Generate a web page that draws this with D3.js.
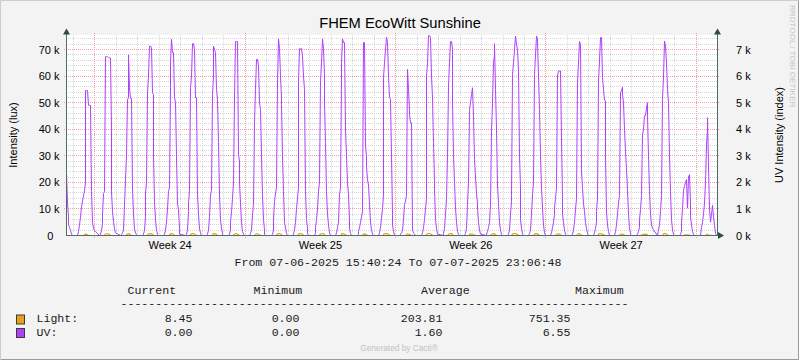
<!DOCTYPE html>
<html><head><meta charset="utf-8">
<script src="https://cdnjs.cloudflare.com/ajax/libs/d3/7.8.5/d3.min.js"></script>
<style>body{margin:0;background:#f3f3f3}svg{display:block}</style>
</head><body><svg id="c" width="799" height="360"></svg>
<script>
const chartTitle = "FHEM EcoWitt Sunshine";
const leftAxisTitle = "Intensity (lux)";
const rightAxisTitle = "UV Intensity (index)";
const startTime = Date.UTC(2025, 5, 7, 15, 40, 24);
const endTime = Date.UTC(2025, 6, 7, 23, 6, 48);
const periodText = "From 07-06-2025 15:40:24 To 07-07-2025 23:06:48";
const dayDates = ["2025-06-07","2025-06-08","2025-06-09","2025-06-10","2025-06-11","2025-06-12","2025-06-13","2025-06-14","2025-06-15","2025-06-16","2025-06-17","2025-06-18","2025-06-19","2025-06-20","2025-06-21","2025-06-22","2025-06-23","2025-06-24","2025-06-25","2025-06-26","2025-06-27","2025-06-28","2025-06-29","2025-06-30","2025-07-01","2025-07-02","2025-07-03","2025-07-04","2025-07-05","2025-07-06","2025-07-07"];
// UV series (left-axis units, thousands), hourly from 05:00 to 23:00 of each day
const uvFirstHour = 5;
const uvHourly = [
 [null,null,null,null,null,null,null,null,null,null,30,24,12,7,4,3,2,0.5,0],
 [0,1.5,4,7,10.8,13,15,16.9,20,54.6,54.6,54.6,49,49,49,16.6,5,2.8,1.8],
 [0,0.5,1.8,4.5,7.8,15.8,16.5,67.3,67.3,67.3,67.0,66.8,66.8,40,16.4,9,5.3,2.5,1],
 [0,0.3,1,2,11.6,21,30,51,52,68,55.6,51.6,51.6,17.9,8,2.5,1,0.3,0],
 [0,0.5,2,7,16,20,53.7,60,71.3,71.3,70.6,53.7,53,30,12.8,6,2,0.5,0],
 [0,0.5,2,5,10,16.6,18,55.6,65,73.8,68.8,68.8,52,50,30,12,9.7,2.7,0.5],
 [0,0.5,2,9,12,17,55.6,60,72.2,72.2,70,51.8,51.8,51.8,15.3,8,2.5,1,0],
 [0,0.5,2,7,15.3,17,53,60,71.3,70,68.8,55,51.2,35,15.3,6,2.7,0.8,0],
 [0,0.5,2,5,9,14,20,51.8,73,73,73,30.4,28,20,12.2,5,1.5,0.5,0],
 [0,0.8,2,7.8,12,42.4,55,66.3,66.3,66.3,63.8,50,47.4,30,15.3,6,2,0.5,0],
 [0,0.5,2,6,12.8,16,18,57.5,74,70.4,60,52,49.3,30,16.6,5,2.8,0.8,0],
 [0,0.5,2,5,10,14,18,58,70.3,70.3,70.3,67.5,60,55,16.6,6,2.8,0.8,0],
 [0,1,3,6,10,16.6,20,58,65,74,70.4,60,50,35,16.6,8,4,1,0],
 [0,1,3,5,15.3,18,58,65,74,72.6,72.6,40,30,20,15.3,6,2.7,0.8,0],
 [0,0.5,1.5,3,5,7,9,72.6,72.6,33.6,30,26,21,19,12,5,2,0.5,0],
 [0,1,3,6.5,10,15.3,59.4,65,70,74.7,72.6,60,52,51.2,30,7.8,4,1.5,0],
 [0,0.5,1,2,6,11.6,13,15,62.5,55,47,45.5,42.4,42.4,2,1,0.5,0,0],
 [0,1,3,6,10,14,60,65,75.2,75.2,74.5,60,51.8,35,20,17.2,6,2.7,0.5],
 [0,0.8,2.7,8,14,30,56.2,65,73,73,70,50,30.4,20,10.3,5,1.5,0.5,0],
 [0,0.8,2.7,11.6,20,46.8,47.4,50,53,55.6,45,28.5,22,16,12,10.3,5,2,0.5],
 [0,0.5,1.5,3,5,11.6,39.2,50,65,68,72.2,55,40,19,12,5,2,0.5,0],
 [0,0.5,2,8,12.8,15,60.6,65,70,75,72,70,62,30,17.9,6,2.7,0.5,0],
 [0,0.8,2,8,15.3,20,60.6,68,75,74,73,60,47.4,30,18,10.3,4,1,0],
 [0,1,3,5,8,10.3,14,18,60,61.9,61.9,61.9,36.7,14,8,5,2,0.5,0],
 [0,0.5,2,5,9.7,14,57.5,65,73,73,72,24,18,12,9,5,2.7,0.8,0],
 [0,1,2.7,5,9,14,58,66,74.5,74.5,59.4,55,51,50.6,30,9,4,1.5,0],
 [0,1.5,4,8,12.2,15,53.7,54.5,55.8,53,50,40,31.7,25,17.2,8,2.7,0.8,0],
 [0,0.5,1.5,3,6,9.7,15,38,40,45,45,48,50,45,30,16.6,8,4,2.7],
 [0,2,4,9,15,51.2,60,73.2,73.2,71.3,65,55,50,30,16.6,6,2,0.5,0],
 [0,0.5,1.5,4.6,10,17,18.5,20,21,10.3,22,22.9,12,7,4,1.5,0.5,0,0],
 [0,3,5,8,12.2,20,34.2,40,44.3,26,10,5,8,11.3,7,4,0.8,0,0]
];
// Light series (thousands), hourly from 09:00 to 19:00 of each day
const lightFirstHour = 9;
const lightHourly = [
 [0,0,0,0,0,0,0.15,0.05,0,0,0],
 [0,0,0.1,0.3,0.5,0.55,0.5,0.3,0.05,0,0],
 [0,0,0.2,0.55,0.65,0.66,0.6,0.35,0.1,0,0],
 [0,0,0.25,0.5,0.6,0.68,0.55,0.3,0.05,0,0],
 [0,0,0.2,0.55,0.7,0.71,0.6,0.35,0.1,0,0],
 [0,0,0.2,0.55,0.7,0.74,0.65,0.4,0.1,0,0],
 [0,0,0.3,0.6,0.72,0.7,0.55,0.3,0.1,0,0],
 [0,0,0.25,0.55,0.7,0.69,0.6,0.35,0.1,0,0],
 [0,0,0.2,0.5,0.73,0.72,0.45,0.25,0.05,0,0],
 [0,0,0.35,0.6,0.66,0.65,0.5,0.3,0.05,0,0],
 [0,0,0.2,0.55,0.74,0.7,0.55,0.35,0.1,0,0],
 [0,0,0.2,0.55,0.7,0.7,0.65,0.45,0.1,0,0],
 [0,0,0.2,0.55,0.65,0.74,0.6,0.4,0.1,0,0],
 [0,0,0.25,0.6,0.72,0.73,0.45,0.25,0.1,0,0],
 [0,0,0.1,0.5,0.72,0.4,0.3,0.2,0.1,0,0],
 [0,0,0.4,0.62,0.7,0.75,0.6,0.45,0.15,0,0],
 [0,0,0.15,0.2,0.6,0.5,0.45,0.42,0.3,0,0],
 [0,0,0.45,0.65,0.75,0.75,0.6,0.4,0.1,0,0],
 [0,0,0.5,0.65,0.73,0.7,0.45,0.25,0.1,0,0],
 [0,0,0.45,0.5,0.55,0.55,0.35,0.2,0.1,0,0],
 [0,0,0.35,0.55,0.68,0.72,0.5,0.3,0.1,0,0],
 [0,0,0.55,0.68,0.75,0.72,0.65,0.4,0.1,0,0],
 [0,0,0.55,0.7,0.75,0.73,0.5,0.3,0.1,0,0],
 [0,0,0.12,0.2,0.6,0.62,0.55,0.3,0.1,0,0],
 [0,0,0.5,0.65,0.73,0.72,0.2,0.12,0.05,0,0],
 [0,0,0.5,0.68,0.75,0.6,0.52,0.4,0.1,0,0],
 [0,0,0.5,0.55,0.56,0.5,0.35,0.2,0.1,0,0],
 [0,0,0.12,0.38,0.43,0.46,0.5,0.45,0.25,0,0],
 [0,0,0.55,0.72,0.73,0.68,0.55,0.3,0.1,0,0],
 [0,0,0.18,0.2,0.2,0.12,0.22,0.2,0.05,0,0],
 [0,0,0.3,0.4,0.44,0.2,0.05,0.08,0.1,0,0]
];
const leftTicks = [0,10,20,30,40,50,60,70];
const rightTicks = [0,1,2,3,4,5,6,7];
const weekLabels = ["Week 24","Week 25","Week 26","Week 27"];
const seriesNames = ["Light:","UV:"];
const seriesColors = ["#EAA11A","#B140FA"];
const statHeaders = ["Current","Minimum","Average","Maximum"];
const statCurrent = ["8.45","0.00"];
const statMinimum = ["0.00","0.00"];
const statAverage = ["203.81","1.60"];
const statMaximum = ["751.35","6.55"];

const svg = d3.select("#c");
const W = 799, H = 360;
const X0 = 66, X1 = 717, Y0 = 235.5, YT = 35.5;
svg.append("rect").attr("width", W).attr("height", H).attr("fill", "#f3f3f3");
svg.append("path").attr("d", "M0.5,359 V0.5 H798").attr("stroke", "#cdcdcd").attr("fill", "none");
svg.append("path").attr("d", "M0.5,359.5 H798.5 V0.5").attr("stroke", "#9a9a9a").attr("fill", "none");

const x = d3.scaleUtc().domain([startTime, endTime]).range([X0, X1]);
const y = d3.scaleLinear().domain([0, 75.27]).range([Y0, YT]);
const yR = d3.scaleLinear().domain([0, 7.527]).range([Y0, YT]);
const px = t => Math.floor(x(t)) + 0.5;
const py = v => Math.round(y(v) - 0.5) + 0.5;

svg.append("rect").attr("x", X0).attr("y", 35).attr("width", X1 - X0).attr("height", 200).attr("fill", "#ffffff");

const grid = svg.append("g").attr("fill", "none").attr("stroke-dasharray", "1,1");
// minor horizontal grid every 2k
const minorY = d3.range(2, 75, 2).filter(v => v % 10 !== 0);
grid.selectAll(".mh").data(minorY).join("line")
  .attr("x1", X0).attr("x2", X1).attr("y1", d => py(d)).attr("y2", d => py(d))
  .attr("stroke", "#d6d6d6");
// minor vertical grid: each day
const days = d3.utcDay.range(d3.utcDay.ceil(startTime), endTime);
const mondays = d3.utcMonday.range(d3.utcMonday.ceil(startTime), endTime);
const monSet = new Set(mondays.map(d => +d));
grid.selectAll(".mv").data(days.filter(d => !monSet.has(+d))).join("line")
  .attr("x1", d => px(d)).attr("x2", d => px(d)).attr("y1", 35).attr("y2", 235)
  .attr("stroke", "#d6d6d6");
// major grid
grid.selectAll(".Mh").data(leftTicks.filter(v => v > 0)).join("line")
  .attr("x1", X0 - 2).attr("x2", X1 + 2).attr("y1", d => py(d)).attr("y2", d => py(d))
  .attr("stroke", "#eca0a0");
grid.selectAll(".Mv").data(mondays).join("line")
  .attr("x1", d => px(d)).attr("x2", d => px(d)).attr("y1", 33).attr("y2", 238)
  .attr("stroke", "#eca0a0");

// data
function hourlyPoints(rows, firstHour) {
  const pts = [];
  rows.forEach((row, i) => {
    const base = Date.parse(dayDates[i] + "T00:00:00Z");
    row.forEach((v, j) => pts.push({ t: base + (firstHour + j) * 3600e3, v: v }));
  });
  return pts;
}
const uvPts = hourlyPoints(uvHourly, uvFirstHour);
const lightPts = hourlyPoints(lightHourly, lightFirstHour);

svg.append("clipPath").attr("id", "plotclip").append("rect")
  .attr("x", X0).attr("y", 30).attr("width", X1 - X0).attr("height", 206);
const line = d3.line().defined(d => d.v != null).x(d => px(d.t)).y(d => y(d.v));
const dataG = svg.append("g").attr("clip-path", "url(#plotclip)").attr("fill", "none");
dataG.append("path").datum(lightPts).attr("d", line).attr("stroke", seriesColors[0]).attr("stroke-width", 1.2);
dataG.append("path").datum(uvPts).attr("d", line).attr("stroke", seriesColors[1]).attr("stroke-width", 1);

// axes
const axisCol = "#4f6e64", arrowCol = "#2c4d43";
svg.append("line").attr("x1", X0 + 0.5).attr("x2", X0 + 0.5).attr("y1", 31).attr("y2", 236).attr("stroke", axisCol);
svg.append("line").attr("x1", X1 + 0.5).attr("x2", X1 + 0.5).attr("y1", 31).attr("y2", 236).attr("stroke", axisCol);
svg.append("line").attr("x1", X0).attr("x2", X1 + 5).attr("y1", 235.5).attr("y2", 235.5).attr("stroke", axisCol);
[X0 + 0.5, X1 + 0.5].forEach(ax => svg.append("path")
  .attr("d", `M${ax},28.5 L${ax - 3.5},34.5 L${ax + 3.5},34.5 Z`).attr("fill", arrowCol));
svg.append("path").attr("d", `M${X1 + 7},235.5 L${X1 + 1},232 L${X1 + 1},239 Z`).attr("fill", arrowCol);

const sans = "'Liberation Sans', Arial, sans-serif";
const mono = "'Liberation Mono', 'Courier New', monospace";
// left tick labels
svg.append("g").selectAll("text").data(leftTicks).join("text")
  .attr("x", 59.5).attr("y", d => y(d) + 4).attr("text-anchor", "end")
  .attr("font-family", sans).attr("font-size", 11).attr("fill", "#000")
  .text(d => d === 0 ? "0\u00a0\u00a0" : d + " k");
// right tick labels
svg.append("g").selectAll("text").data(rightTicks).join("text")
  .attr("x", 736).attr("y", d => yR(d) + 4).attr("text-anchor", "start")
  .attr("font-family", sans).attr("font-size", 11).attr("fill", "#000")
  .text(d => d + " k");
// week labels centred at mid-week (Thursday 12:00)
const weekMids = mondays.slice(0, weekLabels.length).map(d => +d + 3.5 * 864e5);
svg.append("g").selectAll("text").data(weekLabels).join("text")
  .attr("x", (d, i) => x(weekMids[i])).attr("y", 249).attr("text-anchor", "middle")
  .attr("font-family", sans).attr("font-size", 11).attr("fill", "#000").text(d => d);

// titles
svg.append("text").attr("x", 400).attr("y", 27.5).attr("text-anchor", "middle")
  .attr("font-family", sans).attr("font-size", 14.7).attr("fill", "#000").text(chartTitle);
svg.append("text").attr("transform", "translate(16.5,135) rotate(-90)").attr("text-anchor", "middle")
  .attr("font-family", sans).attr("font-size", 11).attr("fill", "#000").text(leftAxisTitle);
svg.append("text").attr("transform", "translate(783,135) rotate(-90)").attr("text-anchor", "middle")
  .attr("font-family", sans).attr("font-size", 11).attr("fill", "#000").text(rightAxisTitle);
svg.append("text").attr("transform", "translate(789.5,5) rotate(90)").attr("text-anchor", "start")
  .attr("font-family", sans).attr("font-size", 8.1).attr("fill", "#c4c4c4").text("RRDTOOL / TOBI OETIKER");

// legend / comments
const mtext = (tx, ty, s, fill) => svg.append("text").attr("x", tx).attr("y", ty)
  .attr("font-family", mono).attr("font-size", 11.6).attr("fill", fill || "#1a1a1a")
  .style("white-space", "pre").text(s);
mtext(234.5, 266, periodText);
const colX = [127.5, 253.5, 421, 575];
statHeaders.forEach((h, i) => mtext(colX[i], 294, h));
mtext(120.5, 307, "-".repeat(73));
const rowY = [322, 335.5];
seriesNames.forEach((n, i) => {
  svg.append("rect").attr("x", 16.5).attr("y", rowY[i] - 7).attr("width", 8).attr("height", 9)
    .attr("fill", seriesColors[i]).attr("stroke", "#3a3a3a").attr("stroke-width", 1);
  mtext(36.5, rowY[i], n);
});
const rightEdge = [192.5, 299.5, 442.5, 570.5];
[statCurrent, statMinimum, statAverage, statMaximum].forEach((col, c) => {
  col.forEach((s, i) => svg.append("text").attr("x", rightEdge[c]).attr("y", rowY[i])
    .attr("text-anchor", "end").attr("font-family", mono).attr("font-size", 11.6)
    .attr("fill", "#1a1a1a").text(s));
});
svg.append("text").attr("x", 399).attr("y", 351).attr("text-anchor", "middle")
  .attr("font-family", sans).attr("font-size", 8.3).attr("fill", "#c2c2c2").text("Generated by Cacti\u00ae");
</script></body></html>
